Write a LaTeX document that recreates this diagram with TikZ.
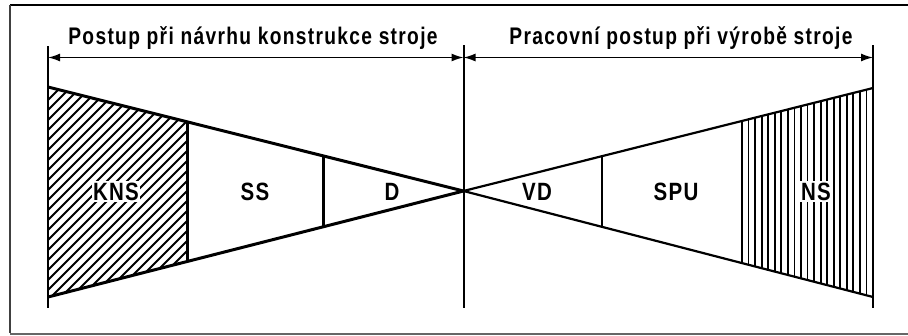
\documentclass[tikz,border=0pt]{standalone}
\usepackage{fontspec}
\setmainfont{Liberation Sans}
\newfontfamily\condfont[FakeStretch=0.8,LetterSpace=5.5]{Liberation Sans}
\newfontfamily\labfont[FakeStretch=0.82,LetterSpace=5]{Liberation Sans}
\usetikzlibrary{arrows.meta,calc}
\tikzset{
  frameline/.style={line width=1.4pt, black!75},
  mainline/.style={line width=2pt},
  wedgeline/.style={line width=3pt, line join=round},
  thinwedge/.style={line width=2.2pt, line join=round},
  hatch/.style={line width=1.8pt},
  dimarrow/.style={line width=1.4pt, {Latex[length=12pt,width=8pt]}-{Latex[length=12pt,width=8pt]}},
  heading/.style={anchor=base, inner sep=0pt, font=\condfont\bfseries\fontsize{24}{24}\selectfont},
  label/.style={anchor=base, inner sep=1.5pt, font=\labfont\bfseries\fontsize{25}{25}\selectfont},
}
\begin{document}
\begin{tikzpicture}[x=1pt,y=-1pt]
\useasboundingbox (0,0) rectangle (908,335);
% frame
\draw[line width=2.6pt] (10,5) -- (908,5);
\draw[frameline] (10,5) -- (10,333);
\draw[line width=2pt, black!60] (10,333.5) -- (908,333.5);

% main coordinates
\coordinate (LT) at (48,46);   \coordinate (LB) at (48,308);
\coordinate (MT) at (463.5,45); \coordinate (MB) at (463.5,308);
\coordinate (RT) at (873,45);  \coordinate (RB) at (873,308);
\coordinate (aL) at (48,57.5); \coordinate (aM) at (463.5,57.5); \coordinate (aR) at (873,57.5);

\coordinate (A1) at (48,87);  \coordinate (A2) at (48,297);
\coordinate (O)  at (463.5,191);
\coordinate (B1) at (873,88); \coordinate (B2) at (873,297);

% division points
\coordinate (k1) at ($(A1)!0.335!(O)$);  \coordinate (k2) at ($(A2)!0.335!(O)$);
\coordinate (s1) at ($(A1)!0.6627!(O)$); \coordinate (s2) at ($(A2)!0.6627!(O)$);
\coordinate (v1) at ($(O)!0.339!(B1)$);  \coordinate (v2) at ($(O)!0.339!(B2)$);
\coordinate (n1) at ($(O)!0.6793!(B1)$); \coordinate (n2) at ($(O)!0.6793!(B2)$);

% hatch KNS
\begin{scope}
  \clip (A1) -- (k1) -- (k2) -- (A2) -- cycle;
  \foreach \i in {0,...,40} {
    \draw[hatch] ({48+\i*10-200},300) -- ++(220,-220);
  }
\end{scope}
% vertical hatch NS
\begin{scope}
  \clip (n1) -- (B1) -- (B2) -- (n2) -- cycle;
  \foreach \i in {1,...,19} {
    \draw[hatch] ({742+\i*6.55},80) -- ({742+\i*6.55},300);
  }
\end{scope}

% main verticals
\draw[mainline] (LT) -- (LB);
\draw[mainline] (MT) -- (MB);
\draw[mainline] (RT) -- (RB);

% dimension arrows
\draw[dimarrow] (aL) -- (aM);
\draw[dimarrow] (aM) -- (aR);

% left wedge
\draw[wedgeline] (A1) -- (O) -- (A2);
\draw[wedgeline] (k1) -- (k2);
\draw[wedgeline] (s1) -- (s2);
% right wedge
\draw[thinwedge] (B1) -- (O) -- (B2);
\draw[thinwedge] (v1) -- (v2);
\draw[thinwedge] (n1) -- (n2);

% headings
\node[heading] (h1) at (253,44) {Postup při návrhu konstrukce stroje};
\node[heading] (h2) at (681,44) {Pracovní postup při výrobě stroje};

% labels
\node[label, fill=white] (kns) at (116,200) {KNS};
\node[label] (ss) at (255,200) {SS};
\node[label] (d) at (392,200) {D};
\node[label] (vd) at (537,200) {VD};
\node[label] (spu) at (676,200) {SPU};
\node[label, fill=white] (ns) at (816,200) {NS};
\end{tikzpicture}
\end{document}
